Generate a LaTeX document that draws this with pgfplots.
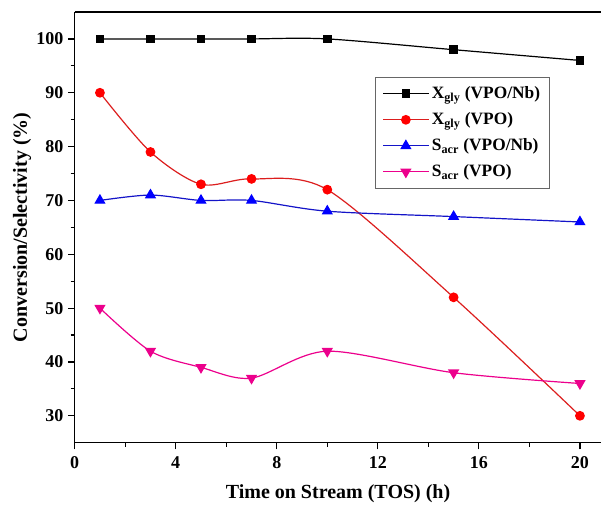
\documentclass[border=0pt]{standalone}
\usepackage{fontspec}
\setmainfont{Liberation Serif}
\usepackage{pgfplots}
\pgfplotsset{compat=1.18}
\begin{document}
\begin{tikzpicture}
\begin{axis}[
  name=ax,
  scale only axis,
  width=395pt, height=323pt,
  xmin=0, xmax=20.85, ymin=25, ymax=105,
  axis x line=box, axis y line=left,
  axis line style={-, line width=0.9pt},
  xtick={0,4,8,12,16,20}, minor xtick={2,6,10,14,18},
  ytick={30,40,50,60,70,80,90,100}, minor ytick={35,45,55,65,75,85,95},
  xtick pos=bottom, ytick pos=left,
  tick align=outside,
  major tick length=5pt, minor tick length=3pt,
  tick style={line width=0.9pt, black},
  /pgf/number format/assume math mode=true,
  ticklabel style={font=\fontsize{13.5}{15}\selectfont\bfseries},
  xticklabel style={yshift=-2pt},
  xlabel={Time on Stream (TOS) (h)},
  ylabel={Conversion/Selectivity (\%)},
  label style={font=\fontsize{15}{17}\selectfont\bfseries},
  xlabel style={yshift=-5pt},
  ylabel style={yshift=-3pt},
  legend cell align=left,
  legend style={at={(0.571,0.849)}, anchor=north west, draw=black!60, line width=0.6pt,
    font=\fontsize{13}{15}\selectfont\bfseries, inner sep=5pt, row sep=5pt},
  legend image code/.code={\draw[mark repeat=2,mark phase=2] plot coordinates {(0cm,0cm)(0.6cm,0cm)(1.2cm,0cm)};},
  every axis plot/.append style={line width=0.9pt, smooth, tension=0.5},
]
\addplot[black, mark=square*, mark size=2.8pt, mark options={solid}] coordinates {(1,100)(3,100)(5,100)(7,100)(10,100)(15,98)(20,96)};
\addlegendentry{X\textsubscript{gly} (VPO/Nb)}
\addplot[color={rgb,255:red,220;green,30;blue,30}, mark=*, mark size=3.2pt, mark options={fill=red, draw=red}] coordinates {(1,90)(3,79)(5,73)(7,74)(10,72)(15,52)(20,30)};
\addlegendentry{X\textsubscript{gly} (VPO)}
\addplot[color={rgb,255:red,20;green,20;blue,200}, mark=triangle*, mark size=4pt, mark options={fill=blue, draw=blue}] coordinates {(1,70)(3,71)(5,70)(7,70)(10,68)(15,67)(20,66)};
\addlegendentry{S\textsubscript{acr} (VPO/Nb)}
\addplot[magenta, mark=triangle*, mark size=4pt, mark options={rotate=180, fill=magenta}] coordinates {(1,50)(3,42)(5,39)(7,37)(10,42)(15,38)(20,36)};
\addlegendentry{S\textsubscript{acr} (VPO)}
\end{axis}
\path ([yshift=9pt]ax.north west);
\path ([xshift=-56pt]ax.south west);
\end{tikzpicture}
\end{document}
